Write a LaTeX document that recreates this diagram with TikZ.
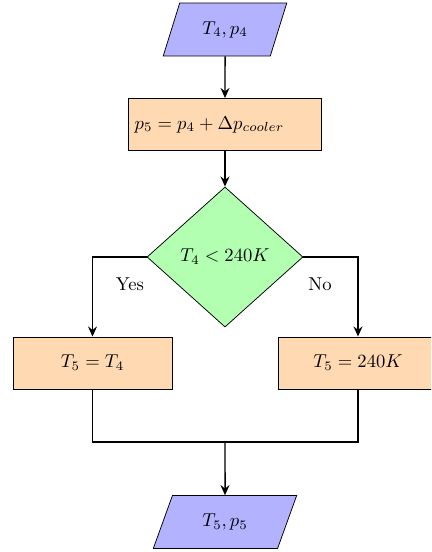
\documentclass[tikz,border=0pt]{standalone}
\usetikzlibrary{shapes.geometric,arrows.meta}
\begin{document}
\begin{tikzpicture}[x=0.5368pt,y=-0.5368pt,
  io/.style={trapezium, trapezium left angle=70, trapezium right angle=110,
    trapezium stretches=true, draw=black, fill=blue!30, minimum height=28.4pt,
    text centered},
  process/.style={rectangle, draw=black, fill=orange!30, minimum height=28pt},
  decision/.style={diamond, draw=black, fill=green!30, minimum width=83.7pt,
    minimum height=75.2pt, inner sep=0pt},
  arrow/.style={thick,-{Stealth[length=5.4pt,width=4.8pt,inset=1.8pt]}},
  link/.style={thick}]
  \useasboundingbox (0,0) rectangle (431,552);
  \clip (0,0) rectangle (431,552);

  \node[io, minimum width=66.6pt] (in) at (225,29.5) {$T_4, p_4$};
  \node[process, minimum width=103.6pt, text width=97pt, align=left] (cool) at (225,124.5)
    {$p_5 = p_4 + \Delta p_{cooler}$};
  \node[decision] (dec) at (225,257) {$T_4 < 240K$};
  \node[process, minimum width=85.35pt] (yes) at (92.5,363) {$T_5 = T_4$};
  \node[process, minimum width=85.35pt] (no) at (358,363) {$T_5 = 240K$};
  \node[io, minimum width=77.3pt] (out) at (225,522) {$T_5, p_5$};
  \coordinate (join) at (225,442);

  \draw[arrow] (in) -- (cool);
  \draw[arrow] (cool) -- (dec);
  \draw[arrow] (dec.west) -| (yes.north);
  \draw[arrow] (dec.east) -| (no.north);
  \node (ylab) at (130,284) {Yes};
  \node (nlab) at (320,284) {No};
  \draw[link] (yes.south) |- (join);
  \draw[link] (no.south) |- (join);
  \draw[arrow] (join) -- (out);
\end{tikzpicture}
\end{document}
